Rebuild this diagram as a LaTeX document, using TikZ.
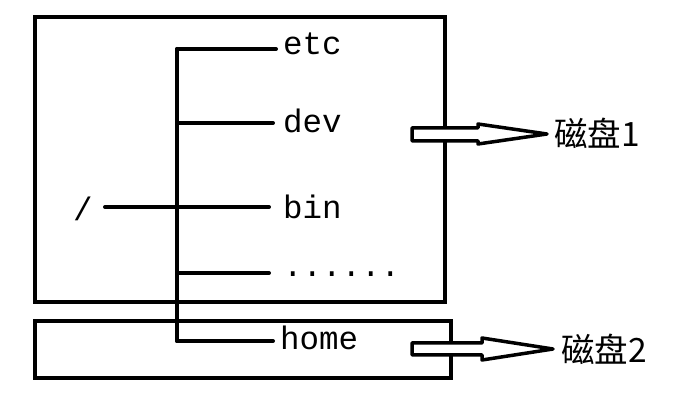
\documentclass[tikz,border=0pt]{standalone}
\usepackage{fontspec}
\setmonofont{Liberation Mono}
\newfontfamily\cjk{Noto Sans CJK SC}
\begin{document}
\begin{tikzpicture}[x=1pt,y=-1pt,
  box/.style={draw=black,line width=4pt},
  branch/.style={draw=black,line width=4pt,line cap=round},
  lbl/.style={inner sep=0pt,anchor=base west,font=\ttfamily\fontsize{32.5}{32.5}\selectfont},
  disk/.style={inner sep=0pt,anchor=west,font=\cjk\fontsize{33.5}{33.5}\selectfont},
  hollow/.style={draw=black,line width=3.5pt,line join=round,fill=white}]
\useasboundingbox (0,0) rectangle (673,411);
% boxes
\draw[box] (35,17) rectangle (445,302);
\draw[box] (35,321) rectangle (451,378);
% labels
\node[lbl] (etc) at (283,55) {etc};
\node[lbl] (dev) at (283,133) {dev};
\node[lbl] (bin) at (283,219) {bin};
\node[lbl] (dots) at (283,277) {......};
\node[lbl] (home) at (280,350) {home};
\node[lbl,anchor=base] (root) at (83,221) {/};
% tree
\coordinate (t0) at (177,49);
\coordinate (t1) at (177,341);
\coordinate (e1) at (276,49);
\coordinate (d0) at (177,123);
\coordinate (d1) at (273,123);
\coordinate (b0) at (105,207);
\coordinate (b1) at (269,207);
\coordinate (s0) at (177,273);
\coordinate (s1) at (269,273);
\coordinate (h1) at (273,341);
\draw[branch] (t0) -- (t1);
\draw[branch] (t0) -- (e1);
\draw[branch] (d0) -- (d1);
\draw[branch] (b0) -- (b1);
\draw[branch] (s0) -- (s1);
\draw[branch] (t1) -- (h1);
% disks
\node[disk] (disk1) at (554,133) {磁盘1};
\node[disk] (disk2) at (561,349) {磁盘2};
\draw[hollow] (412,128) -- (478,128) -- (478,124) -- (547,134) -- (478,144) -- (478,141) -- (412,141) -- cycle;
\draw[hollow] (412,343) -- (482,343) -- (482,338) -- (553,349) -- (482,360) -- (482,355) -- (412,355) -- cycle;
\end{tikzpicture}
\end{document}
